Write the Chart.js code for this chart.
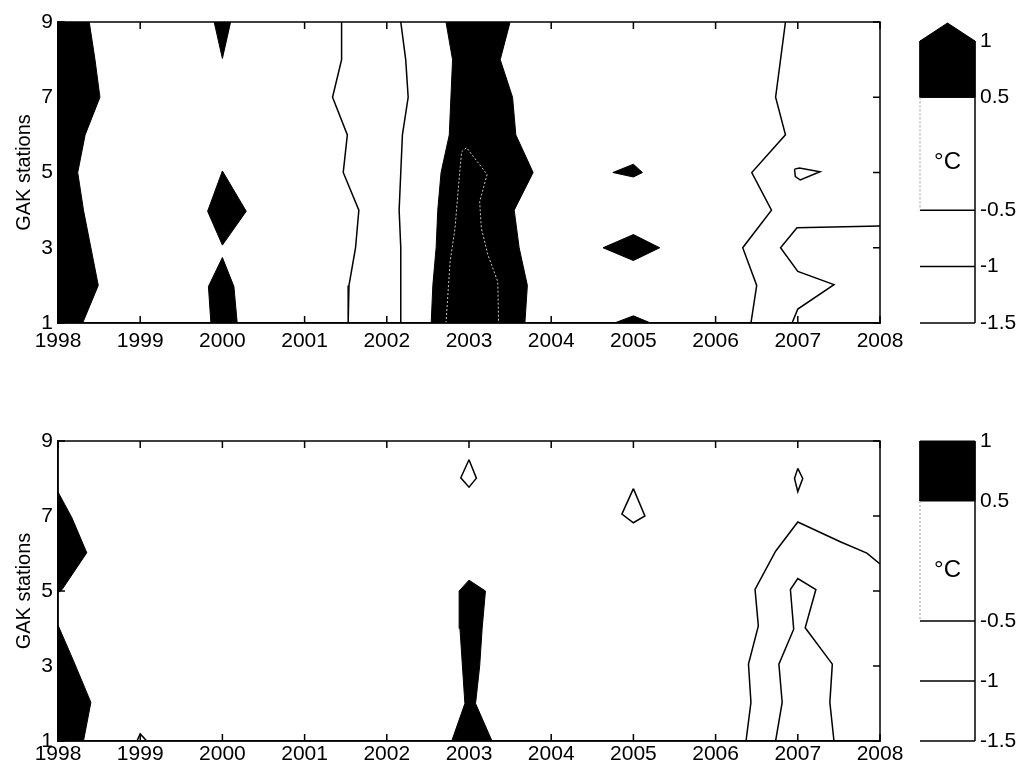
<!DOCTYPE html>
<html>
<head>
<meta charset="utf-8">
<script src="https://cdn.jsdelivr.net/npm/chart.js@4.4.0/dist/chart.umd.min.js"></script>
<style>
body { margin: 0; background: #fff; width: 1018px; height: 772px; position: relative; overflow: hidden; }
canvas { position: absolute; }
</style>
</head>
<body>
<canvas id="topMap" width="910" height="386" style="left:0;top:0"></canvas>
<canvas id="topBar" width="118" height="386" style="left:900px;top:0"></canvas>
<canvas id="botMap" width="910" height="353" style="left:0;top:419px"></canvas>
<canvas id="botBar" width="118" height="353" style="left:900px;top:419px"></canvas>
<script>
// axis ticks
const yearTicks = [1998, 1999, 2000, 2001, 2002, 2003, 2004, 2005, 2006, 2007, 2008];
const stationTicks = [1, 3, 5, 7, 9];
const barTicks = [1, 0.5, -0.5, -1, -1.5];
const barLines = [-0.5, -1, -1.5];   // contour levels drawn as lines
const warmLevel = 0.5;               // above this: filled black
const barMax = 1;

// top panel: areas above 0.5 °C  [year, station]
const topWarm1998 = [[1998, 9], [1998.38, 9], [1998.45, 8], [1998.51, 7], [1998.33, 6], [1998.24, 5],
  [1998.31, 4], [1998.40, 3], [1998.49, 2], [1998.30, 1], [1998, 1]];
const topWarm2000a = [[1999.90, 9], [2000.10, 9], [2000.0, 8.03]];
const topWarm2000b = [[2000.0, 5.04], [2000.29, 3.97], [2000.0, 3.07], [1999.82, 3.97]];
const topWarm2000c = [[2000.0, 2.74], [2000.14, 1.97], [2000.18, 1], [1999.86, 1], [1999.83, 1.97]];
const topWarm2003 = [[2002.72, 9], [2002.80, 8], [2002.78, 7], [2002.76, 6], [2002.66, 5], [2002.62, 4],
  [2002.60, 3], [2002.56, 2], [2002.54, 1], [2003.68, 1], [2003.71, 2], [2003.61, 3], [2003.55, 4],
  [2003.78, 5], [2003.57, 6], [2003.53, 7], [2003.38, 8], [2003.50, 9]];
const topWarm2005a = [[2004.75, 5.0], [2005.0, 5.22], [2005.11, 5.0], [2005.0, 4.88]];
const topWarm2005b = [[2004.63, 3.0], [2005.0, 3.35], [2005.32, 3.0], [2005.0, 2.66]];
const topWarm2005c = [[2004.77, 1], [2005.0, 1.19], [2005.21, 1]];

// top panel: contour lines
const topLine2001 = [[2001.45, 9], [2001.45, 8], [2001.34, 7], [2001.52, 6], [2001.47, 5], [2001.66, 4],
  [2001.62, 3], [2001.54, 2], [2001.53, 1]];
const topLine2002 = [[2002.17, 9], [2002.23, 8], [2002.26, 7], [2002.19, 6], [2002.17, 5], [2002.15, 4],
  [2002.17, 3], [2002.17, 2], [2002.17, 1]];
const topLine2006 = [[2006.85, 9], [2006.79, 8], [2006.73, 7], [2006.85, 6], [2006.44, 5], [2006.68, 4],
  [2006.33, 3], [2006.50, 2], [2006.43, 1]];
const topLine2007 = [[2008, 3.58], [2006.99, 3.53], [2006.79, 3.0], [2007.0, 2.37], [2007.44, 2.02],
  [2007.0, 1.37], [2006.93, 1]];
const topLoop2007 = [[2006.96, 5.09], [2007.02, 5.12], [2007.27, 5.02], [2007.03, 4.8], [2006.97, 4.89], [2006.96, 5.09]];
const topHot2003 = [[2002.72, 1], [2002.77, 2.63], [2002.83, 3.52], [2002.87, 4.58], [2002.91, 5.55],
  [2002.97, 5.66], [2003.22, 4.95], [2003.13, 4.22], [2003.15, 3.52], [2003.23, 2.81], [2003.35, 2.10], [2003.36, 1]];

// bottom panel: areas above 0.5 °C
const botWarm1998a = [[1998, 7.64], [1998.17, 6.95], [1998.35, 6.02], [1998.05, 5.04], [1998, 4.95]];
const botWarm1998b = [[1998, 4.09], [1998.19, 3.13], [1998.40, 2.03], [1998.31, 1], [1998, 1]];
const botWarm2003 = [[2002.79, 1], [2002.95, 2], [2002.92, 3], [2002.89, 4], [2002.88, 5.0], [2003.0, 5.29],
  [2003.2, 5.0], [2003.16, 4], [2003.13, 3], [2003.08, 2], [2003.28, 1]];

// bottom panel: contour lines
const botLoop1999 = [[1998.96, 1], [1999.0, 1.19], [1999.08, 1]];
const botLoop2003 = [[2003, 8.5], [2003.09, 8.01], [2003, 7.77], [2002.90, 8.02], [2003, 8.5]];
const botLoop2005 = [[2005, 7.73], [2005.14, 7.0], [2005, 6.82], [2004.86, 7.05], [2005, 7.73]];
const botLoop2007 = [[2007, 8.27], [2007.06, 8.0], [2007, 7.65], [2006.96, 8.0], [2007, 8.27]];
const botOuter2007 = [[2006.37, 1], [2006.43, 2.03], [2006.40, 3.05], [2006.52, 4.07], [2006.48, 5.04],
  [2006.73, 6.06], [2007.0, 6.84], [2007.51, 6.32], [2007.84, 6.01], [2008, 5.72]];
const botInner2007 = [[2006.73, 1], [2006.81, 2.03], [2006.77, 3.05], [2006.95, 3.98], [2006.91, 5.04],
  [2007.0, 5.33], [2007.22, 5.04], [2007.09, 4.02], [2007.42, 3.05], [2007.39, 2.03], [2007.44, 1]];

Chart.defaults.font.family = "'Liberation Sans', Arial, sans-serif";
Chart.defaults.font.size = 21;
Chart.defaults.color = '#000';

function pts(a) {
    return a.map(p => ({x: p[0], y: p[1]}));
}
// filled areas are drawn first (higher order), lines on top
function patch(a) {
    return {data: pts(a.concat([a[0]])), showLine: true, fill: 'shape', backgroundColor: '#000',
        borderColor: '#000', borderWidth: 1, pointRadius: 0, order: 2};
}
function contour(a, color, dash, w) {
    return {data: pts(a), showLine: true, fill: false, borderColor: color || '#000',
        borderWidth: w || 1.5, borderDash: dash || [], pointRadius: 0, order: 1};
}

// box round the plot with inward ticks on all four sides
const frameTicks = {
    id: 'frameTicks',
    afterDatasetsDraw(chart) {
        const ctx = chart.ctx, a = chart.chartArea, x = chart.scales.x, y = chart.scales.y;
        ctx.save();
        ctx.strokeStyle = '#000';
        ctx.lineWidth = 1.5;
        ctx.strokeRect(a.left, a.top, a.right - a.left, a.bottom - a.top);
        ctx.beginPath();
        x.ticks.forEach(t => {
            const px = x.getPixelForValue(t.value);
            ctx.moveTo(px, a.bottom); ctx.lineTo(px, a.bottom - 7);
            ctx.moveTo(px, a.top); ctx.lineTo(px, a.top + 7);
        });
        y.ticks.forEach(t => {
            const py = y.getPixelForValue(t.value);
            ctx.moveTo(a.left, py); ctx.lineTo(a.left + 7, py);
            ctx.moveTo(a.right, py); ctx.lineTo(a.right - 7, py);
        });
        ctx.stroke();
        ctx.restore();
    }
};

const unitLabel = {
    id: 'unitLabel',
    afterDatasetsDraw(chart) {
        const ctx = chart.ctx;
        ctx.save();
        ctx.font = "24px 'Liberation Sans', Arial, sans-serif";
        ctx.fillStyle = '#000';
        ctx.textAlign = 'center';
        ctx.textBaseline = 'middle';
        ctx.fillText('°C', chart.scales.x.getPixelForValue(0.5), chart.scales.y.getPixelForValue(-0.08));
        ctx.restore();
    }
};

function mapChart(id, warm, lines, axisHeight, labelPad) {
    return new Chart(document.getElementById(id), {
        type: 'scatter',
        data: {datasets: warm.map(patch).concat(lines)},
        options: {
            responsive: false, animation: false, devicePixelRatio: 1,
            layout: {padding: {left: 0, right: 30, top: 22, bottom: 0}},
            plugins: {legend: {display: false}, tooltip: {enabled: false}},
            scales: {
                x: {
                    type: 'linear', min: 1998, max: 2008,
                    afterBuildTicks: s => { s.ticks = yearTicks.map(v => ({value: v})); },
                    afterFit: s => { s.height = axisHeight; },
                    grid: {display: false, drawTicks: false},
                    border: {display: true, color: '#000', width: 1.5},
                    ticks: {padding: labelPad, maxRotation: 0, autoSkip: false, callback: v => String(v)}
                },
                y: {
                    min: 1, max: 9,
                    afterBuildTicks: s => { s.ticks = stationTicks.map(v => ({value: v})); },
                    afterFit: s => { s.width = 58; },
                    grid: {display: false, drawTicks: false},
                    border: {display: true, color: '#000', width: 1.5},
                    ticks: {padding: 5, callback: v => String(v)},
                    title: {display: true, text: 'GAK stations', font: {size: 20}, padding: {top: 12, bottom: 0}}
                }
            }
        },
        plugins: [frameTicks]
    });
}

function barChart(id, padTop, padBottom, arrow) {
    const top = arrow ? barMax + 0.16 : barMax;
    const sets = [patch([[0, warmLevel], [1, warmLevel], [1, barMax], [0, barMax]])];
    if (arrow) sets.push(patch([[0, barMax], [0.5, top], [1, barMax]]));
    sets.push(contour([[0, warmLevel], [0, barLines[0]]], '#999', [2, 2], 1));
    barLines.forEach(v => sets.push(contour([[0, v], [1, v]], '#000', [], 1.5)));
    sets.push(contour([[1, barTicks[barTicks.length - 1]], [1, barMax]], '#000', [], 1.5));
    sets.forEach(s => { s.clip = false; });
    return new Chart(document.getElementById(id), {
        type: 'scatter',
        data: {datasets: sets},
        options: {
            responsive: false, animation: false, devicePixelRatio: 1,
            layout: {padding: {left: 20, right: 0, top: padTop, bottom: padBottom}},
            plugins: {legend: {display: false}, tooltip: {enabled: false}},
            scales: {
                x: {type: 'linear', min: 0, max: 1, display: false},
                y: {
                    position: 'right', min: -1.5, max: top,
                    afterBuildTicks: s => { s.ticks = barTicks.map(v => ({value: v})); },
                    afterFit: s => { s.width = 43; },
                    grid: {display: false, drawTicks: false},
                    border: {display: false},
                    ticks: {padding: 5, callback: v => String(v)}
                }
            }
        },
        plugins: [unitLabel]
    });
}

mapChart('topMap',
    [topWarm1998, topWarm2000a, topWarm2000b, topWarm2000c, topWarm2003, topWarm2005a, topWarm2005b, topWarm2005c],
    [contour(topLine2001), contour(topLine2002), contour(topLine2006), contour(topLine2007), contour(topLoop2007),
     contour(topHot2003, '#c8c8c8', [2, 2], 1)],
    63, 6);
barChart('topBar', 23, 63, true);

mapChart('botMap',
    [botWarm1998a, botWarm1998b, botWarm2003],
    [contour(botLoop1999), contour(botLoop2003), contour(botLoop2005), contour(botLoop2007),
     contour(botOuter2007), contour(botInner2007)],
    31, 1);
barChart('botBar', 22, 31, false);
</script>
</body>
</html>
